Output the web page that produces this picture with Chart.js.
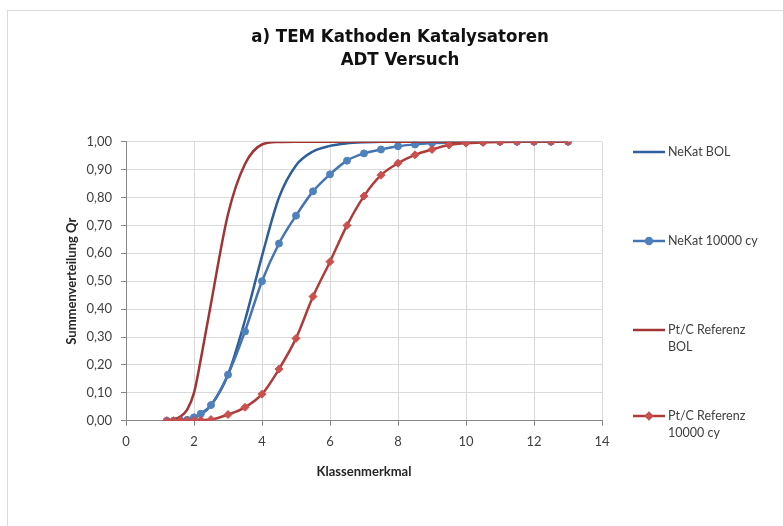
<!DOCTYPE html>
<html>
<head>
<meta charset="utf-8">
<script src="https://cdn.jsdelivr.net/npm/chart.js@4.4.0/dist/chart.umd.min.js"></script>
<style>
  body { margin: 0; background: #fff; overflow: hidden; }
  #frame { position: absolute; left: 7px; top: 10px; width: 800px; height: 540px; border: 1px solid #d9d9d9; }
  #wrap { position: absolute; left: 0; top: 0; width: 783px; height: 526px; }
</style>
</head>
<body>
<div id="frame"></div>
<div id="wrap"><canvas id="chart"></canvas></div>
<script>
// DATA
const xVals = [1.2, 1.4, 1.6, 1.8, 2.0, 2.2, 2.5, 3.0, 3.5, 4.0, 4.5, 5.0, 5.5, 6.0, 6.5, 7.0, 7.5, 8.0, 8.5, 9.0, 9.5, 10.0, 10.5, 11.0, 11.5, 12.0, 12.5, 13.0];

const nekatBol   = [0, 0, 0.001, 0.004, 0.010, 0.022, 0.055, 0.165, 0.36, 0.59, 0.80, 0.915, 0.965, 0.985, 0.994, 0.998, 1, 1, 1, 1, 1, 1, 1, 1, 1, 1, 1, 1];
const nekat10000 = [0, 0, 0.001, 0.003, 0.012, 0.025, 0.056, 0.165, 0.32, 0.50, 0.635, 0.735, 0.822, 0.883, 0.932, 0.958, 0.972, 0.984, 0.990, 0.995, 0.997, 0.999, 1, 1, 1, 1, 1, 1];
const ptcBol     = [0, 0.004, 0.015, 0.04, 0.10, 0.22, 0.42, 0.74, 0.92, 0.99, 0.999, 1, 1, 1, 1, 1, 1, 1, 1, 1, 1, 1, 1, 1, 1, 1, 1, 1];
const ptc10000   = [0, 0, 0, 0, 0.001, 0.002, 0.004, 0.022, 0.048, 0.095, 0.185, 0.295, 0.445, 0.57, 0.70, 0.805, 0.88, 0.923, 0.953, 0.972, 0.988, 0.995, 0.997, 0.999, 1, 1, 1, 1];

const seriesNames = [['NeKat BOL'], ['NeKat 10000 cy'], ['Pt/C Referenz', 'BOL'], ['Pt/C Referenz', '10000 cy']];
const titleLines = ['a) TEM Kathoden Katalysatoren', 'ADT Versuch'];
const xTitle = 'Klassenmerkmal';
const yTitle = 'Summenverteilung Qr';

function pts(ys) {
    return xVals.map((x, i) => ({x: x, y: ys[i]}));
}

const tickFont = {family: 'Lato', size: 13};
const boldFont = {family: 'Lato', size: 13, weight: 'bold'};

// title + legend drawn at the Excel-like spots
const legendY = [152, 241, 330, 416];
const extras = {
    id: 'extras',
    afterDraw(chart) {
        const ctx = chart.ctx;
        ctx.save();
        ctx.fillStyle = '#111';
        ctx.textAlign = 'center';
        ctx.textBaseline = 'middle';
        ctx.font = 'bold 18.5px "DejaVu Sans Condensed", sans-serif';
        titleLines.forEach((t, i) => ctx.fillText(t, 400, 37 + i * 23));

        ctx.textAlign = 'left';
        ctx.font = '12.5px Lato';
        chart.data.datasets.forEach((ds, i) => {
            const y = legendY[i];
            ctx.strokeStyle = ds.borderColor;
            ctx.lineWidth = ds.borderWidth;
            ctx.beginPath();
            ctx.moveTo(633, y);
            ctx.lineTo(665, y);
            ctx.stroke();
            if (ds.pointRadius > 0) {
                ctx.fillStyle = ds.pointBackgroundColor;
                ctx.strokeStyle = ds.pointBorderColor;
                Chart.helpers.drawPoint(ctx, {pointStyle: ds.pointStyle, radius: 3, borderWidth: 1}, 649, y);
            }
            ctx.fillStyle = '#404040';
            seriesNames[i].forEach((line, j) => ctx.fillText(line, 668, y + j * 17));
        });
        ctx.restore();
    }
};

const ctx = document.getElementById('chart').getContext('2d');
new Chart(ctx, {
    type: 'line',
    data: {
        datasets: [
            {
                label: seriesNames[0].join(' '),
                data: pts(nekatBol),
                borderColor: '#2e5f9a',
                borderWidth: 2.5,
                pointRadius: 0,
                cubicInterpolationMode: 'monotone',
                order: 3
            },
            {
                label: seriesNames[1].join(' '),
                data: pts(nekat10000),
                borderColor: '#4474b3',
                borderWidth: 2.5,
                pointStyle: 'circle',
                pointRadius: 3.5,
                pointBackgroundColor: '#4f81bd',
                pointBorderColor: '#4f81bd',
                pointBorderWidth: 1,
                cubicInterpolationMode: 'monotone',
                order: 2
            },
            {
                label: seriesNames[2].join(' '),
                data: pts(ptcBol),
                borderColor: '#a23533',
                borderWidth: 2.5,
                pointRadius: 0,
                cubicInterpolationMode: 'monotone',
                order: 1
            },
            {
                label: seriesNames[3].join(' '),
                data: pts(ptc10000),
                borderColor: '#b03c3a',
                borderWidth: 2.5,
                pointStyle: 'rectRot',
                pointRadius: 4,
                pointBackgroundColor: '#c9504d',
                pointBorderColor: '#c9504d',
                pointBorderWidth: 1,
                cubicInterpolationMode: 'monotone',
                order: 0
            }
        ]
    },
    options: {
        responsive: true,
        maintainAspectRatio: false,
        animation: false,
        layout: {padding: {left: 0, right: 181, top: 141.7, bottom: 0}},
        scales: {
            x: {
                type: 'linear',
                min: 0,
                max: 14,
                afterFit: s => { s.height = 105.3; },
                ticks: {stepSize: 2, font: tickFont, color: '#404040', padding: 8},
                grid: {color: '#d9d9d9', tickColor: '#868686', tickLength: 5},
                border: {color: '#868686'},
                title: {display: true, text: xTitle, font: boldFont, color: '#262626', padding: {top: 0, bottom: 46}}
            },
            y: {
                min: 0,
                max: 1,
                afterFit: s => { s.width = 126; },
                ticks: {
                    stepSize: 0.1,
                    font: tickFont,
                    color: '#404040',
                    padding: 9,
                    callback: v => v.toFixed(2).replace('.', ',')
                },
                grid: {color: '#d9d9d9', tickColor: '#868686', tickLength: 5},
                border: {color: '#868686'},
                title: {display: true, text: yTitle, font: boldFont, color: '#262626', padding: {top: 64, bottom: 0}}
            }
        },
        plugins: {
            legend: {display: false},
            title: {display: false},
            tooltip: {enabled: false}
        }
    },
    plugins: [extras]
});
</script>
</body>
</html>
